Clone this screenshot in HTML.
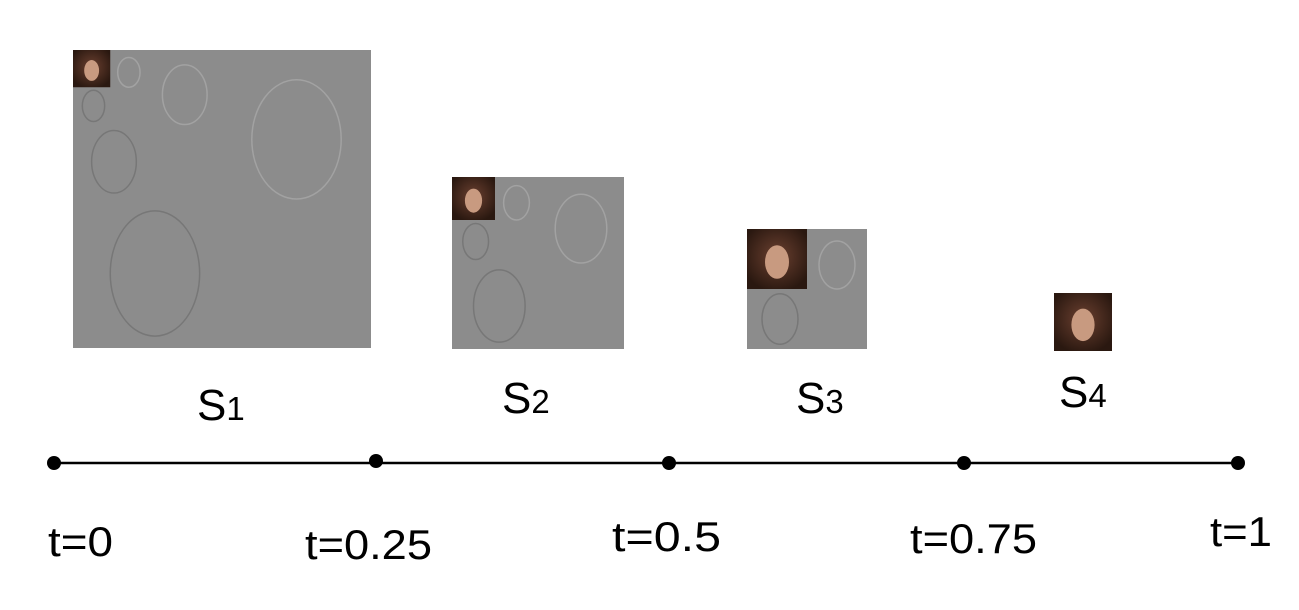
<!DOCTYPE html>
<html><head><meta charset="utf-8"><style>
body{margin:0;background:#fff;}
svg{display:block;font-family:"Liberation Sans",Arial,sans-serif;}
</style></head><body>
<svg id="c" width="1299" height="610" viewBox="0 0 1299 610">
<defs>
<radialGradient id="hair" cx="50%" cy="45%" r="60%"><stop offset="0" stop-color="#6b4030"/><stop offset="1" stop-color="#2a1810"/></radialGradient>
</defs>
<g id="blocks"></g>
<g id="axis"></g>
</svg>
<script>
const tickValues=[0,0.25,0.5,0.75,1];
const tickLabels=["t=0","t=0.25","t=0.5","t=0.75","t=1"];
const dotY=[463,461,463,463,463];
const labelY=[556,559,551,553,546];
const scaleNames=["1","2","3","4"];
const ns="http://www.w3.org/2000/svg";
function el(t,a,p){const e=document.createElementNS(ns,t);for(const k in a)e.setAttribute(k,a[k]);p.appendChild(e);return e;}
const x0=54,x1=1238;
function xs(v){return x0+(x1-x0)*v;}
const axis=document.getElementById('axis');
const line=el('line',{x1:xs(0),x2:xs(1),y1:463,y2:463,stroke:'#000','stroke-width':2.5},axis);


const tickDx=[-6,-71,-57,-54,-28];
const tickW=[65,127,109,127,62];
tickValues.forEach((v,i)=>{
 const cx=[54,376,669,964,1238][i];
 const d=el('circle',{cx:cx,cy:dotY[i],r:7,fill:'#000'},axis);
 
 
 const t=el('text',{x:cx+tickDx[i],y:labelY[i],'font-size':42,fill:'#000',textLength:tickW[i],lengthAdjust:'spacingAndGlyphs'},axis);
 t.textContent=tickLabels[i];
 
 
});
const blocks=[[73,50,298,3],[452,177,172,2],[747,229,120,1],[1054,293,58,0]];
const lbl=[[197,420],[502,413],[796,413],[1059,407]];
const g=document.getElementById('blocks');
function face(x,y,s,p){
 el('rect',{x:x,y:y,width:s,height:s,fill:'url(#hair)'},p);
 el('ellipse',{cx:x+s*0.5,cy:y+s*0.55,rx:s*0.2,ry:s*0.28,fill:'#c89a80'},p);
}
blocks.forEach((b,i)=>{
 const [x,y,s,l]=b;
 const grp=el('g',{},g);
 
 
 if(l===0){face(x,y,s,grp);}
 else{
  el('rect',{x:x,y:y,width:s,height:s,fill:'#8c8c8c'},grp);
  let sz=s;
  for(let k=0;k<l;k++){
   const h=sz/2;
   el('ellipse',{cx:x+h*1.5,cy:y+h*0.6,rx:h*0.3,ry:h*0.4,fill:'none',stroke:'#a2a2a2','stroke-width':1.5},grp);
   el('ellipse',{cx:x+h*0.55,cy:y+h*1.5,rx:h*0.3,ry:h*0.42,fill:'none',stroke:'#777','stroke-width':1.5},grp);
   sz=h;
  }
  face(x,y,sz,grp);
 }
 const t=el('text',{x:lbl[i][0],y:lbl[i][1],'font-size':44,fill:'#000'},g);
 t.innerHTML='S<tspan font-size="33">'+scaleNames[i]+'</tspan>';
 
 
});
</script>
</body></html>
